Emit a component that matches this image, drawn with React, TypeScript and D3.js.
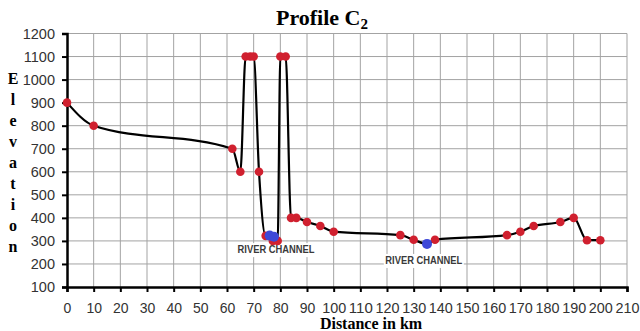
import React, { useRef, useEffect } from 'react';
import * as d3 from 'd3';

// profile points (red)
const distances = [0, 10, 62, 65, 67, 68.7, 70, 72, 74.5, 77.2, 79, 80, 82, 84, 86, 90, 95, 100, 125, 130, 138, 165, 170, 175, 185, 190, 195, 200];
const elevations = [900, 800, 700, 600, 1100, 1100, 1100, 600, 322, 300, 300, 1100, 1100, 400, 400, 382, 365, 340, 325, 305, 305, 325, 340, 365, 382, 400, 303, 303];

// river channel points (blue)
const channelDistances = [76, 77.6, 135];
const channelElevations = [323, 318, 287];

const riverLabels = [
  { text: 'RIVER CHANNEL', d: 78.4, e: 247 },
  { text: 'RIVER CHANNEL', d: 133.8, e: 200 },
];

const xTicks = d3.range(0, 211, 10);
const yTicks = d3.range(100, 1201, 100);
const yLetters = 'Elevation'.split('');

const W = 640;
const H = 331;

export default function App() {
  const svgRef = useRef<SVGSVGElement | null>(null);

  useEffect(() => {
    const svg = d3.select(svgRef.current);
    svg.selectAll('*').remove();

    const x = d3.scaleLinear().domain([0, 210]).range([67, 627]);
    const y = d3.scaleLinear().domain([100, 1200]).range([287, 33.5]);

    // grid
    const grid = svg.append('g').attr('stroke', '#a3a3a3').attr('stroke-width', 1);
    grid.selectAll('line.v').data(xTicks.slice(1)).join('line')
      .attr('x1', (d) => x(d)).attr('x2', (d) => x(d))
      .attr('y1', y(100)).attr('y2', y(1200));
    grid.selectAll('line.h').data(yTicks.slice(1)).join('line')
      .attr('class', 'h')
      .attr('x1', x(0)).attr('x2', x(210))
      .attr('y1', (d) => y(d)).attr('y2', (d) => y(d));

    // axes
    const yAxis = svg.append('g').attr('transform', `translate(${x(0)},0)`)
      .call(d3.axisLeft(y).tickValues(yTicks).tickSize(5).tickPadding(7).tickFormat(d3.format('d')));
    yAxis.select('.domain').attr('stroke', '#000').attr('stroke-width', 2.5);
    yAxis.selectAll('.tick line').attr('stroke', '#000').attr('stroke-width', 2);
    yAxis.selectAll('.tick text')
      .attr('font-family', 'Liberation Sans, Arial, sans-serif')
      .attr('font-size', 14.5).attr('fill', '#333');

    const xAxis = svg.append('g').attr('transform', `translate(0,${y(100)})`)
      .call(d3.axisBottom(x).tickValues(xTicks).tickSize(5).tickPadding(11).tickFormat(d3.format('d')));
    xAxis.select('.domain').attr('stroke', '#000').attr('stroke-width', 2.5);
    xAxis.selectAll('.tick line').attr('stroke', '#000').attr('stroke-width', 2);
    xAxis.selectAll<SVGTextElement, number>('.tick text')
      .attr('font-family', 'Liberation Sans, Arial, sans-serif')
      .attr('font-size', 14).attr('fill', '#333')
      .attr('textLength', (d) => (d >= 100 ? 24 : null) as any)
      .attr('lengthAdjust', 'spacingAndGlyphs');

    // river channel labels with white boxes
    const lab = svg.append('g').selectAll('g').data(riverLabels).join('g')
      .attr('transform', (d) => `translate(${x(d.d)},${y(d.e)})`);
    lab.append('rect').attr('x', -40).attr('y', -10).attr('width', 80).attr('height', 14).attr('fill', '#fff');
    lab.append('text').text((d) => d.text)
      .attr('text-anchor', 'middle')
      .attr('font-family', 'Liberation Sans, Arial, sans-serif')
      .attr('font-weight', 'bold').attr('font-size', 10)
      .attr('textLength', 77).attr('lengthAdjust', 'spacingAndGlyphs')
      .attr('fill', '#3a3a3a');

    // profile line through all points
    const pts = distances.map((d, i) => ({ d, e: elevations[i] }))
      .concat(channelDistances.map((d, i) => ({ d, e: channelElevations[i] })))
      .sort((a, b) => a.d - b.d);
    const line = d3.line<{ d: number; e: number }>()
      .x((p) => x(p.d)).y((p) => y(p.e))
      .curve(d3.curveMonotoneX);
    svg.append('path').datum(pts).attr('d', line)
      .attr('fill', 'none').attr('stroke', '#000').attr('stroke-width', 2.2);

    svg.append('g').selectAll('circle').data(distances).join('circle')
      .attr('cx', (d) => x(d)).attr('cy', (_, i) => y(elevations[i]))
      .attr('r', 4.3).attr('fill', '#d0202f');
    svg.append('g').selectAll('circle').data(channelDistances).join('circle')
      .attr('cx', (d) => x(d)).attr('cy', (_, i) => y(channelElevations[i]))
      .attr('r', 5).attr('fill', '#3d48d8');

    // title
    const title = svg.append('text').attr('x', 322).attr('y', 25)
      .attr('text-anchor', 'middle')
      .attr('font-family', 'Liberation Serif, Times New Roman, serif')
      .attr('font-weight', 'bold').attr('font-size', 22).attr('fill', '#000');
    title.append('tspan').text('Profile C');
    title.append('tspan').text('2').attr('font-size', 15).attr('dy', 4);

    // x axis title
    svg.append('text').attr('x', 371).attr('y', 329)
      .attr('text-anchor', 'middle')
      .attr('font-family', 'Liberation Serif, Times New Roman, serif')
      .attr('font-weight', 'bold').attr('font-size', 16).attr('fill', '#000')
      .text('Distance in km');

    // y axis title, stacked letters
    svg.append('g').selectAll('text').data(yLetters).join('text')
      .attr('x', 13).attr('y', (_, i) => 84 + i * 21)
      .attr('text-anchor', 'middle')
      .attr('font-family', 'Liberation Serif, Times New Roman, serif')
      .attr('font-weight', 'bold').attr('font-size', 16).attr('fill', '#000')
      .text((d) => d);
  }, []);

  return (
    <svg ref={svgRef} width={W} height={H}
      style={{ position: 'absolute', left: 0, top: 0, background: '#fff' }} />
  );
}
